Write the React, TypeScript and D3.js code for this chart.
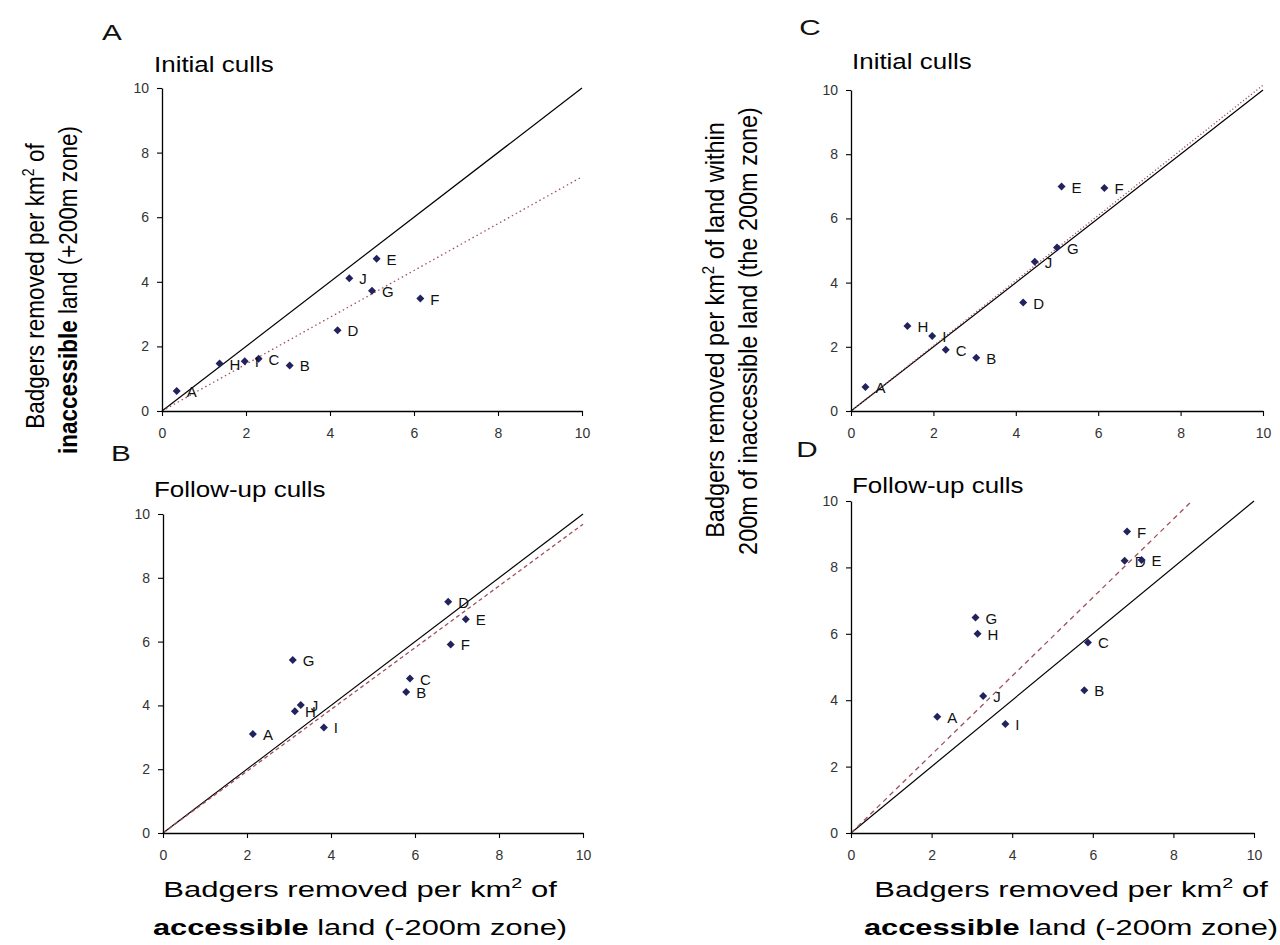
import React, { useEffect, useRef } from 'react'
import * as d3 from 'd3'

// sites A..J
const sites = ['A', 'B', 'C', 'D', 'E', 'F', 'G', 'H', 'I', 'J']

// badgers removed per km2, initial culls
const initialAccessible = [0.35, 3.04, 2.3, 4.18, 5.11, 6.15, 5.0, 1.37, 1.97, 4.46]
const initialPlus200 = [0.62, 1.41, 1.62, 2.5, 4.71, 3.48, 3.72, 1.47, 1.54, 4.11]
const initialWithin200 = [0.75, 1.66, 1.91, 3.38, 6.99, 6.95, 5.09, 2.65, 2.34, 4.65]

// follow-up culls
const followAccessible = [2.14, 5.79, 5.88, 6.79, 7.21, 6.85, 3.09, 3.14, 3.83, 3.28]
const followPlus200 = [3.1, 4.42, 4.84, 7.25, 6.7, 5.91, 5.42, 3.82, 3.31, 4.01]
const followWithin200 = [3.5, 4.3, 5.74, 8.2, 8.22, 9.08, 6.49, 6.0, 3.28, 4.13]

// 1:1 line and fitted trend lines (end points)
const identityLine: [number, number][] = [[0, 0], [10, 10]]
const trendA: [number, number][] = [[0, 0], [10, 7.25]]
const trendB: [number, number][] = [[0, 0], [10, 9.68]]
const trendC: [number, number][] = [[0, 0], [10, 10.15]]
const trendD: [number, number][] = [[0, 0], [8.46, 10]]

const axisTicks = [0, 2, 4, 6, 8, 10]

const FONT = '"Liberation Sans", Arial, sans-serif'

interface Box {
  left: number
  right: number
  top: number
  bottom: number
}

interface PanelProps {
  letter: string
  letterX: number
  letterY: number
  title: string
  titleX: number
  titleY: number
  xs: number[]
  ys: number[]
  trend: [number, number][]
  trendDash: string
  box: Box
}

const Panel: React.FC<PanelProps> = ({ letter, letterX, letterY, title, titleX, titleY, xs, ys, trend, trendDash, box }) => {
  const xAxisRef = useRef<SVGGElement>(null)
  const yAxisRef = useRef<SVGGElement>(null)

  const x = d3.scaleLinear().domain([0, 10]).range([box.left, box.right])
  const y = d3.scaleLinear().domain([0, 10]).range([box.bottom, box.top])

  useEffect(() => {
    if (!xAxisRef.current || !yAxisRef.current) return
    const gx = d3.select(xAxisRef.current)
    gx.selectAll('*').remove()
    gx.call(d3.axisBottom(x).tickValues(axisTicks).tickSize(5).tickPadding(12).tickSizeOuter(0))

    const gy = d3.select(yAxisRef.current)
    gy.selectAll('*').remove()
    gy.call(d3.axisLeft(y).tickValues(axisTicks).tickSize(5).tickPadding(8).tickSizeOuter(0))

    // style axes
    for (const g of [gx, gy]) {
      g.selectAll('.domain').attr('stroke', '#000').attr('stroke-width', 1.3)
      g.selectAll('.tick line').attr('stroke', '#000').attr('stroke-width', 1.1)
      g.selectAll('.tick text').attr('fill', '#333').attr('font-size', 14).attr('font-family', FONT)
    }
  })

  const line = d3
    .line<[number, number]>()
    .x((d) => x(d[0]))
    .y((d) => y(d[1]))

  const points = sites.map((s, i) => ({ site: s, xv: xs[i], yv: ys[i] }))

  return (
    <g>
      <text
        transform={`translate(${letterX},${letterY}) scale(1.35,1)`}
        fontFamily={FONT}
        fontSize={22}
        textAnchor="middle"
        fill="#111"
      >
        {letter}
      </text>
      <text transform={`translate(${titleX},${titleY}) scale(1.18,1)`} fontFamily={FONT} fontSize={22} fill="#000">
        {title}
      </text>
      <path d={line(identityLine) ?? ''} stroke="#000" strokeWidth={1.2} fill="none" />
      <path d={line(trend) ?? ''} stroke="#a0505a" strokeWidth={1.3} strokeDasharray={trendDash} fill="none" />
      <g ref={xAxisRef} transform={`translate(0,${box.bottom})`} />
      <g ref={yAxisRef} transform={`translate(${box.left},0)`} />
      {points.map((p) => (
        <g key={p.site} transform={`translate(${x(p.xv)},${y(p.yv)})`}>
          <path d="M0,-4L4,0L0,4L-4,0Z" fill="#22225e" />
          <text x={10} y={6} fontFamily={FONT} fontSize={15} fill="#111">
            {p.site}
          </text>
        </g>
      ))}
    </g>
  )
}

const HLabel: React.FC<{ cx: number; y1: number; y2: number }> = ({ cx, y1, y2 }) => (
  <g fontFamily={FONT} fontSize={22} fill="#000">
    <text transform={`translate(${cx},${y1}) scale(1.41,1)`} textAnchor="middle">
      Badgers removed per km
      <tspan fontSize={14} dy={-9}>
        2
      </tspan>
      <tspan dy={9}> of</tspan>
    </text>
    <text transform={`translate(${cx},${y2}) scale(1.4,1)`} textAnchor="middle">
      <tspan fontWeight="bold">accessible</tspan> land (-200m zone)
    </text>
  </g>
)

const App: React.FC = () => {
  return (
    <svg
      width={1280}
      height={945}
      style={{ position: 'absolute', left: 0, top: 0, background: '#fff' }}
    >
      <rect width={1280} height={945} fill="#fff" />

      <Panel
        letter="A"
        letterX={112}
        letterY={40}
        title="Initial culls"
        titleX={154}
        titleY={72}
        xs={initialAccessible}
        ys={initialPlus200}
        trend={trendA}
        trendDash="1.5,3"
        box={{ left: 162, right: 582, top: 88, bottom: 411 }}
      />
      <Panel
        letter="B"
        letterX={121}
        letterY={461}
        title="Follow-up culls"
        titleX={154}
        titleY={497}
        xs={followAccessible}
        ys={followPlus200}
        trend={trendB}
        trendDash="4,3"
        box={{ left: 163, right: 583, top: 514, bottom: 833 }}
      />
      <Panel
        letter="C"
        letterX={810}
        letterY={35}
        title="Initial culls"
        titleX={852}
        titleY={69}
        xs={initialAccessible}
        ys={initialWithin200}
        trend={trendC}
        trendDash="1.2,2.2"
        box={{ left: 851, right: 1263, top: 90, bottom: 411 }}
      />
      <Panel
        letter="D"
        letterX={807}
        letterY={457}
        title="Follow-up culls"
        titleX={852}
        titleY={493}
        xs={followAccessible}
        ys={followWithin200}
        trend={trendD}
        trendDash="5,4"
        box={{ left: 851, right: 1254, top: 501, bottom: 833 }}
      />

      {/* left y label */}
      <g fontFamily={FONT} fontSize={22.5} fill="#000">
        <text transform="translate(44,286) scale(1.15,1) rotate(-90)" textAnchor="middle">
          Badgers removed per km
          <tspan fontSize={14} dy={-9}>
            2
          </tspan>
          <tspan dy={9}> of</tspan>
        </text>
        <text transform="translate(77,290) scale(1.15,1) rotate(-90)" textAnchor="middle">
          <tspan fontWeight="bold">inaccessible</tspan> land (+200m zone)
        </text>
      </g>

      {/* middle y label */}
      <g fontFamily={FONT} fontSize={23.5} fill="#000">
        <text transform="translate(724,330) scale(1.12,1) rotate(-90)" textAnchor="middle">
          Badgers removed per km
          <tspan fontSize={15} dy={-9}>
            2
          </tspan>
          <tspan dy={9}> of land within</tspan>
        </text>
        <text transform="translate(757,331) scale(1.12,1) rotate(-90)" textAnchor="middle">
          200m of inaccessible land (the 200m zone)
        </text>
      </g>

      <HLabel cx={360} y1={897} y2={935} />
      <HLabel cx={1071} y1={897} y2={935} />
    </svg>
  )
}

export default App
